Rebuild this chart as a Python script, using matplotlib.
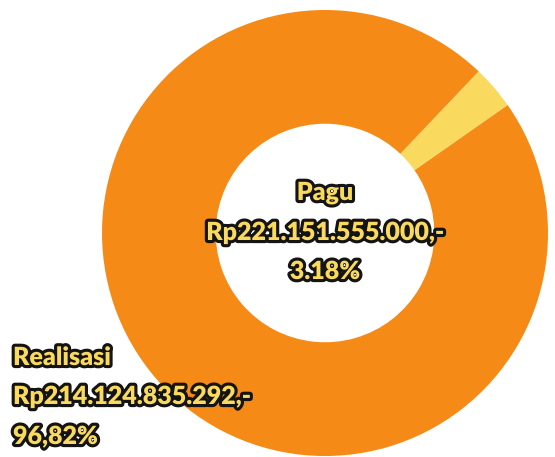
import matplotlib
matplotlib.use('Agg')
import matplotlib.pyplot as plt
import matplotlib.patheffects as pe

# data
kategori = ['Pagu', 'Realisasi']
persen = [3.18, 96.82]
nominal = ['Rp221.151.555.000,-', 'Rp214.124.835.292,-']
persen_label = ['3.18%', '96,82%']
warna = ['#FADA5E', '#F58A16']

fig = plt.figure(figsize=(5.55, 4.57), dpi=100)
ax = fig.add_axes([0, 0, 1, 1])

# donut: pusat di (325, 233) px, jari-jari 223 px
r_px = 223.0
ax.pie(persen, colors=warna, startangle=35, radius=1,
       wedgeprops=dict(width=0.51, linewidth=0))
ax.set_xlim(-325 / r_px, (555 - 325) / r_px)
ax.set_ylim(-(457 - 233) / r_px, 233 / r_px)
ax.set_aspect('auto')
ax.axis('off')

font = ['Lato', 'DejaVu Sans']
stroke = [pe.withStroke(linewidth=4.5, foreground='#141414')]


def px(x, y):
    # piksel gambar -> koordinat figure
    return x / 555, 1 - y / 457


# label tengah (Pagu)
baris_pagu = [kategori[0], nominal[0], persen_label[0]]
for teks, y in zip(baris_pagu, [193, 233, 272]):
    fx, fy = px(325, y)
    fig.text(fx, fy, teks, ha='center', va='center', fontsize=18,
             fontweight='heavy', family=font, color=warna[0],
             path_effects=stroke)

# label kiri bawah (Realisasi)
baris_real = [kategori[1], nominal[1], persen_label[1]]
for teks, y in zip(baris_real, [358, 397, 437]):
    fx, fy = px(13, y)
    fig.text(fx, fy, teks, ha='left', va='center', fontsize=18,
             fontweight='heavy', family=font, color=warna[0],
             path_effects=stroke)

fig.savefig('out.png', dpi=100)
